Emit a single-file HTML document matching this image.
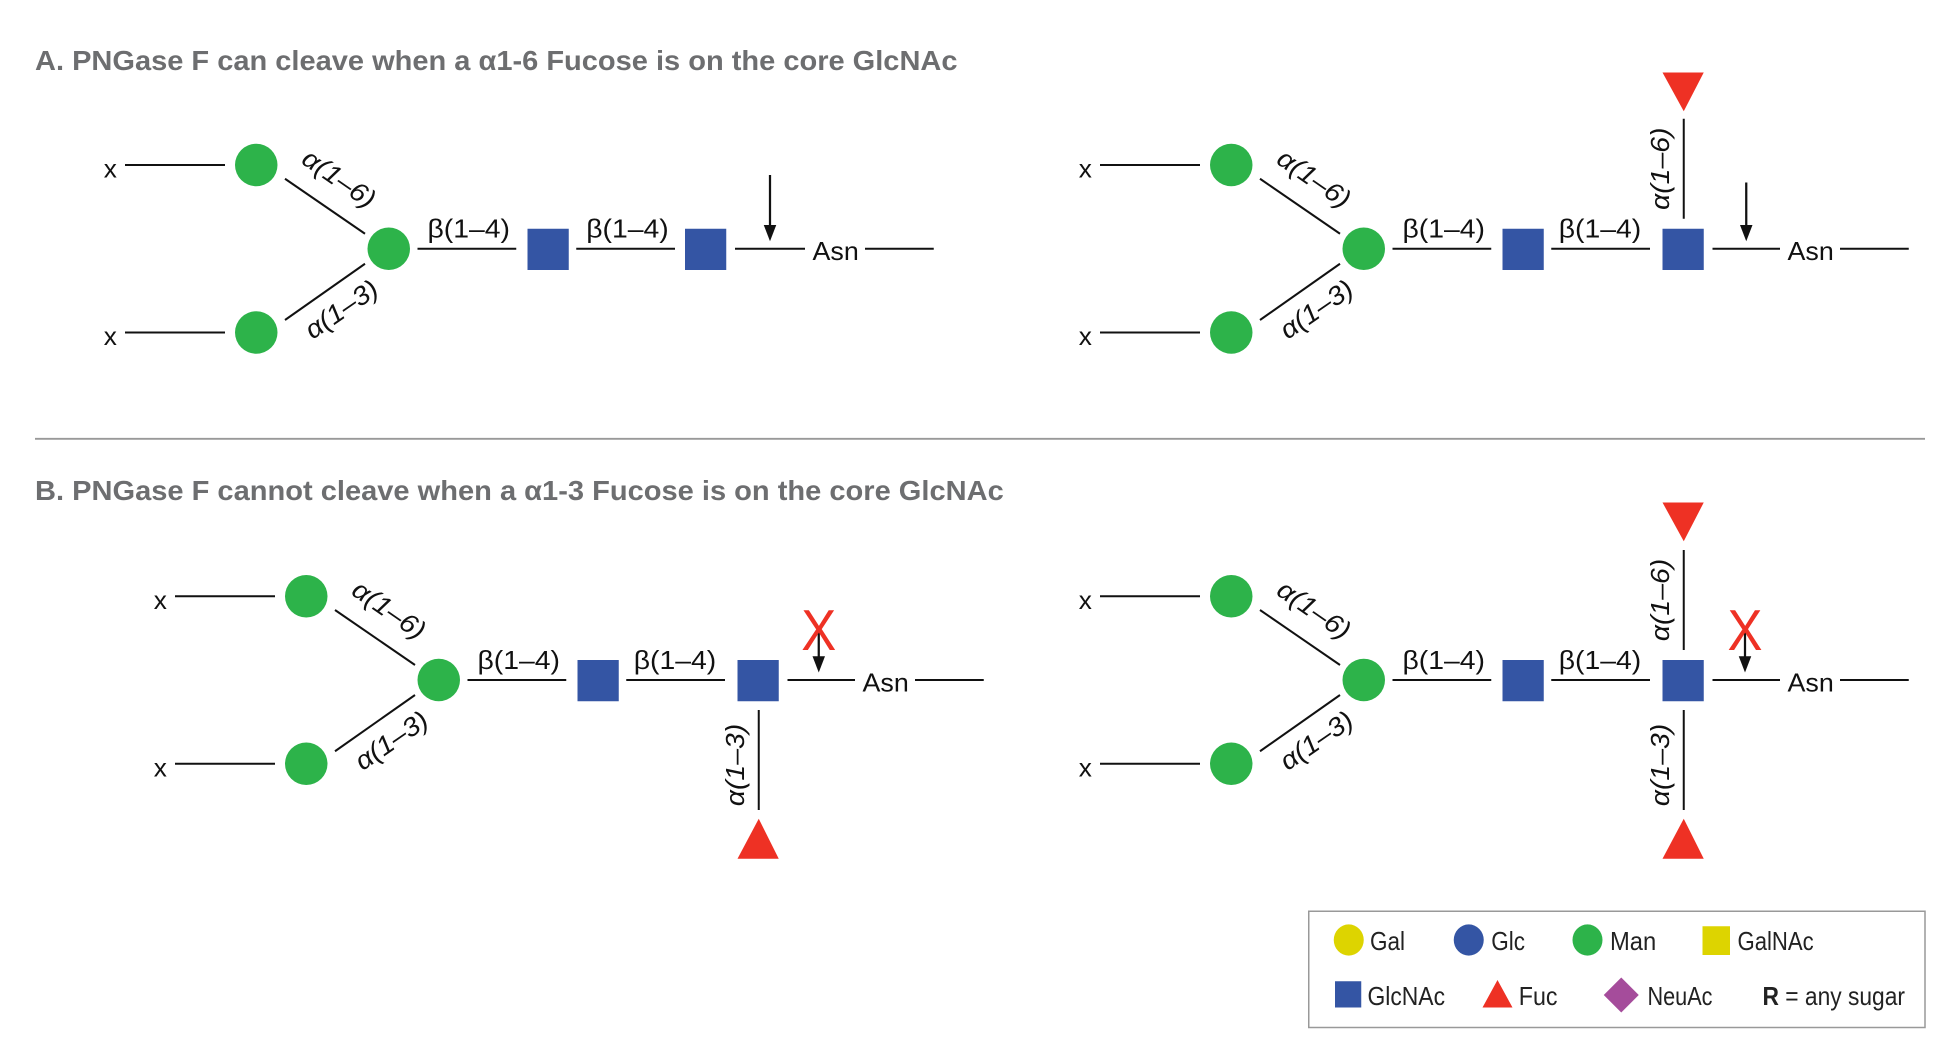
<!DOCTYPE html>
<html><head><meta charset="utf-8"><style>
html,body{margin:0;padding:0;background:#fff;}
svg{display:block;}
text{font-family:"Liberation Sans",sans-serif;}
</style></head><body>
<svg width="1950" height="1050" viewBox="0 0 1560 840" xmlns="http://www.w3.org/2000/svg">
<g fill="#6d6e70" font-weight="bold" font-size="22">
<text x="28" y="56" textLength="738" lengthAdjust="spacingAndGlyphs">A. PNGase F can cleave when a α1-6 Fucose is on the core GlcNAc</text>
<text x="28" y="400" textLength="775" lengthAdjust="spacingAndGlyphs">B. PNGase F cannot cleave when a α1-3 Fucose is on the core GlcNAc</text>
</g>
<line x1="28" y1="351" x2="1540" y2="351" stroke="#999" stroke-width="1.5"/>

<g stroke="#111" stroke-width="1.6" font-size="21">
<g stroke="none" fill="#111">
<text x="83" y="142">x</text><text x="83" y="276">x</text>
</g>
<line x1="100" y1="132" x2="180" y2="132"/><line x1="100" y1="266" x2="180" y2="266"/>
<line x1="228" y1="143" x2="292" y2="187"/><line x1="228" y1="256" x2="292" y2="211"/>
<line x1="334" y1="199" x2="413" y2="199"/><line x1="461" y1="199" x2="540" y2="199"/>
<line x1="588" y1="199" x2="644" y2="199"/><line x1="692" y1="199" x2="747" y2="199"/>
<g stroke="none">
<circle cx="205" cy="132" r="17" fill="#2DB34A"/><circle cx="205" cy="266" r="17" fill="#2DB34A"/>
<circle cx="311" cy="199" r="17" fill="#2DB34A"/>
<rect x="422" y="183" width="33" height="33" fill="#3455A4"/>
<rect x="548" y="183" width="33" height="33" fill="#3455A4"/>
<g fill="#111">
<text x="342" y="190" textLength="66" lengthAdjust="spacingAndGlyphs">β(1–4)</text>
<text x="469" y="190" textLength="66" lengthAdjust="spacingAndGlyphs">β(1–4)</text>
<text x="650" y="208" textLength="37" lengthAdjust="spacingAndGlyphs">Asn</text>
<text transform="translate(240,130) rotate(34.5)" font-style="italic" textLength="66" lengthAdjust="spacingAndGlyphs">α(1–6)</text>
<text transform="translate(250,272) rotate(-34.5)" font-style="italic" textLength="66" lengthAdjust="spacingAndGlyphs">α(1–3)</text>
</g></g>
</g>
<line x1="616" y1="140" x2="616" y2="184" stroke="#111" stroke-width="1.8"/>
<polygon points="611,180 621,180 616,193" fill="#111"/>

<g transform="translate(780,0)" stroke="#111" stroke-width="1.6" font-size="21">
<g stroke="none" fill="#111">
<text x="83" y="142">x</text><text x="83" y="276">x</text>
</g>
<line x1="100" y1="132" x2="180" y2="132"/><line x1="100" y1="266" x2="180" y2="266"/>
<line x1="228" y1="143" x2="292" y2="187"/><line x1="228" y1="256" x2="292" y2="211"/>
<line x1="334" y1="199" x2="413" y2="199"/><line x1="461" y1="199" x2="540" y2="199"/>
<line x1="590" y1="199" x2="644" y2="199"/><line x1="692" y1="199" x2="747" y2="199"/>
<line x1="567" y1="95" x2="567" y2="175"/>
<g stroke="none">
<circle cx="205" cy="132" r="17" fill="#2DB34A"/><circle cx="205" cy="266" r="17" fill="#2DB34A"/>
<circle cx="311" cy="199" r="17" fill="#2DB34A"/>
<rect x="422" y="183" width="33" height="33" fill="#3455A4"/>
<rect x="550" y="183" width="33" height="33" fill="#3455A4"/>
<polygon points="550,58 583,58 567,89" fill="#EE3124"/>
<g fill="#111">
<text x="342" y="190" textLength="66" lengthAdjust="spacingAndGlyphs">β(1–4)</text>
<text x="467" y="190" textLength="66" lengthAdjust="spacingAndGlyphs">β(1–4)</text>
<text x="650" y="208" textLength="37" lengthAdjust="spacingAndGlyphs">Asn</text>
<text transform="translate(240,130) rotate(34.5)" font-style="italic" textLength="66" lengthAdjust="spacingAndGlyphs">α(1–6)</text>
<text transform="translate(250,272) rotate(-34.5)" font-style="italic" textLength="66" lengthAdjust="spacingAndGlyphs">α(1–3)</text>
<text transform="translate(555,168) rotate(-90)" font-style="italic" textLength="66" lengthAdjust="spacingAndGlyphs">α(1–6)</text>
</g></g>
<line x1="617" y1="146" x2="617" y2="184" stroke-width="1.8"/>
<polygon points="612,180 622,180 617,193" fill="#111" stroke="none"/>
</g>

<g transform="translate(40,345)" stroke="#111" stroke-width="1.6" font-size="21">
<g stroke="none" fill="#111">
<text x="83" y="142">x</text><text x="83" y="276">x</text>
</g>
<line x1="100" y1="132" x2="180" y2="132"/><line x1="100" y1="266" x2="180" y2="266"/>
<line x1="228" y1="143" x2="292" y2="187"/><line x1="228" y1="256" x2="292" y2="211"/>
<line x1="334" y1="199" x2="413" y2="199"/><line x1="461" y1="199" x2="540" y2="199"/>
<line x1="590" y1="199" x2="644" y2="199"/><line x1="692" y1="199" x2="747" y2="199"/>
<line x1="567" y1="223" x2="567" y2="303"/>
<g stroke="none">
<circle cx="205" cy="132" r="17" fill="#2DB34A"/><circle cx="205" cy="266" r="17" fill="#2DB34A"/>
<circle cx="311" cy="199" r="17" fill="#2DB34A"/>
<rect x="422" y="183" width="33" height="33" fill="#3455A4"/>
<rect x="550" y="183" width="33" height="33" fill="#3455A4"/>
<polygon points="550,342 583,342 567,310" fill="#EE3124"/>
<g fill="#111">
<text x="342" y="190" textLength="66" lengthAdjust="spacingAndGlyphs">β(1–4)</text>
<text x="467" y="190" textLength="66" lengthAdjust="spacingAndGlyphs">β(1–4)</text>
<text x="650" y="208" textLength="37" lengthAdjust="spacingAndGlyphs">Asn</text>
<text transform="translate(240,130) rotate(34.5)" font-style="italic" textLength="66" lengthAdjust="spacingAndGlyphs">α(1–6)</text>
<text transform="translate(250,272) rotate(-34.5)" font-style="italic" textLength="66" lengthAdjust="spacingAndGlyphs">α(1–3)</text>
<text transform="translate(555,300) rotate(-90)" font-style="italic" textLength="66" lengthAdjust="spacingAndGlyphs">α(1–3)</text>
</g></g>
<line x1="615" y1="158" x2="615" y2="184" stroke-width="1.8"/>
<polygon points="610,180 620,180 615,193" fill="#111" stroke="none"/>
<text x="615" y="175" text-anchor="middle" font-size="46" fill="#EE3124" stroke="none" textLength="28" lengthAdjust="spacingAndGlyphs">X</text>
</g>

<g transform="translate(780,345)" stroke="#111" stroke-width="1.6" font-size="21">
<g stroke="none" fill="#111">
<text x="83" y="142">x</text><text x="83" y="276">x</text>
</g>
<line x1="100" y1="132" x2="180" y2="132"/><line x1="100" y1="266" x2="180" y2="266"/>
<line x1="228" y1="143" x2="292" y2="187"/><line x1="228" y1="256" x2="292" y2="211"/>
<line x1="334" y1="199" x2="413" y2="199"/><line x1="461" y1="199" x2="540" y2="199"/>
<line x1="590" y1="199" x2="644" y2="199"/><line x1="692" y1="199" x2="747" y2="199"/>
<line x1="567" y1="95" x2="567" y2="175"/>
<line x1="567" y1="223" x2="567" y2="303"/>
<g stroke="none">
<circle cx="205" cy="132" r="17" fill="#2DB34A"/><circle cx="205" cy="266" r="17" fill="#2DB34A"/>
<circle cx="311" cy="199" r="17" fill="#2DB34A"/>
<rect x="422" y="183" width="33" height="33" fill="#3455A4"/>
<rect x="550" y="183" width="33" height="33" fill="#3455A4"/>
<polygon points="550,57 583,57 567,88" fill="#EE3124"/>
<polygon points="550,342 583,342 567,310" fill="#EE3124"/>
<g fill="#111">
<text x="342" y="190" textLength="66" lengthAdjust="spacingAndGlyphs">β(1–4)</text>
<text x="467" y="190" textLength="66" lengthAdjust="spacingAndGlyphs">β(1–4)</text>
<text x="650" y="208" textLength="37" lengthAdjust="spacingAndGlyphs">Asn</text>
<text transform="translate(240,130) rotate(34.5)" font-style="italic" textLength="66" lengthAdjust="spacingAndGlyphs">α(1–6)</text>
<text transform="translate(250,272) rotate(-34.5)" font-style="italic" textLength="66" lengthAdjust="spacingAndGlyphs">α(1–3)</text>
<text transform="translate(555,168) rotate(-90)" font-style="italic" textLength="66" lengthAdjust="spacingAndGlyphs">α(1–6)</text>
<text transform="translate(555,300) rotate(-90)" font-style="italic" textLength="66" lengthAdjust="spacingAndGlyphs">α(1–3)</text>
</g></g>
<line x1="616" y1="158" x2="616" y2="184" stroke-width="1.8"/>
<polygon points="611,180 621,180 616,193" fill="#111" stroke="none"/>
<text x="616" y="175" text-anchor="middle" font-size="46" fill="#EE3124" stroke="none" textLength="28" lengthAdjust="spacingAndGlyphs">X</text>
</g>

<rect x="1047" y="729" width="493" height="93" fill="#fff" stroke="#999" stroke-width="1.2"/>
<g font-size="21" fill="#222">
<ellipse cx="1079" cy="752" rx="12" ry="12.5" fill="#DDD400"/>
<text x="1096" y="760" textLength="28" lengthAdjust="spacingAndGlyphs">Gal</text>
<ellipse cx="1175" cy="752" rx="12" ry="12.5" fill="#3455A4"/>
<text x="1193" y="760" textLength="27" lengthAdjust="spacingAndGlyphs">Glc</text>
<ellipse cx="1270" cy="752" rx="12" ry="12.5" fill="#2DB34A"/>
<text x="1288" y="760" textLength="37" lengthAdjust="spacingAndGlyphs">Man</text>
<rect x="1362" y="741" width="22" height="23" fill="#DDD400"/>
<text x="1390" y="760" textLength="61" lengthAdjust="spacingAndGlyphs">GalNAc</text>
<rect x="1068" y="785" width="21" height="21" fill="#3455A4"/>
<text x="1094" y="804" textLength="62" lengthAdjust="spacingAndGlyphs">GlcNAc</text>
<polygon points="1186,806 1210,806 1198,784" fill="#EE3124"/>
<text x="1215" y="804" textLength="31" lengthAdjust="spacingAndGlyphs">Fuc</text>
<polygon points="1297,782 1311,796 1297,810 1283,796" fill="#A54C9B"/>
<text x="1318" y="804" textLength="52" lengthAdjust="spacingAndGlyphs">NeuAc</text>
<text x="1410" y="804" textLength="114" lengthAdjust="spacingAndGlyphs"><tspan font-weight="bold">R</tspan> = any sugar</text>
</g>
</svg>
</body></html>
